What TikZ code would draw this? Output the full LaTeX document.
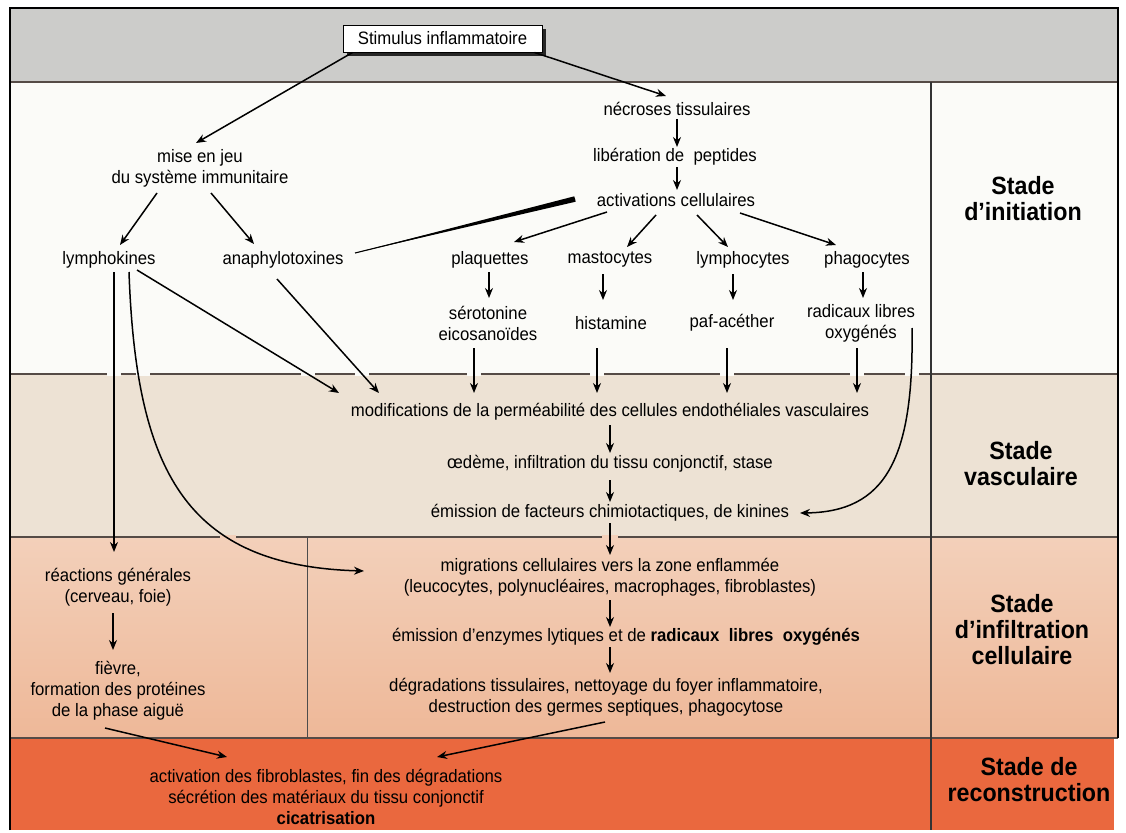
\documentclass[tikz,border=0pt]{standalone}
\usepackage{fontspec}
\setmainfont[FakeStretch=0.93]{Liberation Sans}
\usetikzlibrary{arrows.meta,shadows,calc}
\definecolor{bandgray}{RGB}{204,204,202}
\definecolor{bandwhite}{RGB}{251,251,248}
\definecolor{bandbeige}{RGB}{237,226,212}
\definecolor{salmontop}{RGB}{243,208,186}
\definecolor{salmonbot}{RGB}{238,184,152}
\definecolor{bandorange}{RGB}{234,104,62}
\definecolor{rulegray}{RGB}{85,75,70}
\tikzset{
  txt/.style={font=\fontsize{18}{21}\selectfont, align=center, inner sep=1pt},
  stage/.style={font=\bfseries\fontsize{25}{26}\selectfont, align=center, inner sep=1pt},
  arr/.style={-{Stealth[length=10pt,width=8pt]}, line width=1.5pt},
  rulebar/.style={draw=rulegray, line width=2pt},
  gapw/.style={fill=bandwhite},
  gapb/.style={fill=salmontop},
  stimbox/.style={draw, fill=white, line width=0.8pt, inner xsep=0pt, minimum width=199pt, minimum height=27pt,
    font=\fontsize{18}{20}\selectfont,
    drop shadow={shadow xshift=4pt, shadow yshift=-4pt, fill=black!85, opacity=1}}
}
\begin{document}
\begin{tikzpicture}[x=1pt,y=-1pt]
\useasboundingbox (0,0) rectangle (1126,832);
\fill[white] (0,0) rectangle (1126,832);
% bands
\fill[bandgray] (10,8) rectangle (1118,82);
\fill[bandwhite] (10,82) rectangle (1118,374);
\fill[bandbeige] (10,374) rectangle (1118,537);
\shade[top color=salmontop, bottom color=salmonbot] (10,537) rectangle (1118,738);
\fill[bandorange] (10,738) rectangle (1114,830);
% rules
\draw[rulebar] (10,82) -- (1118,82);
\draw[rulebar] (10,374) -- (1118,374);
\draw[rulebar] (10,537) -- (1118,537);
\draw[rulebar] (10,738) -- (1118,738);
% small breaks in the rules where arrows cross
\foreach \gx in {114,143,308,362,474,597,727,857,912}
  \fill[gapw] (\gx-7,371.8) rectangle (\gx+7,376.2);
\foreach \gx in {228,610}
  \fill[gapb] (\gx-8,534.8) rectangle (\gx+8,539.2);
\draw[line width=1.6pt, draw=black!80] (931,82) -- (931,830);
\draw[line width=1pt, draw=black!70] (307,537) -- (307,738);
\draw[line width=1.8pt] (10,830) -- (10,8) -- (1118,8) -- (1118,738);

% nodes
\node[stimbox] (stim) at (442.5,38.5) {Stimulus inflammatoire};
\node[txt] (nec) at (677,109) {nécroses tissulaires};
\node[txt] (lib) at (675,157) {libération de\ \ peptides};
\node[txt] (act) at (676,200) {activations cellulaires};
\node[txt] (mise) at (200,168) {mise en jeu\\du système immunitaire};
\node[txt] (lymk) at (109,260) {lymphokines};
\node[txt] (anaph) at (283,260) {anaphylotoxines};
\node[txt] (plaq) at (490,260) {plaquettes};
\node[txt] (mast) at (610,260) {mastocytes};
\node[txt] (lymc) at (743,260) {lymphocytes};
\node[txt] (phag) at (867,260) {phagocytes};
\node[txt] (sero) at (488,323) {sérotonine\\eicosanoïdes};
\node[txt] (hist) at (611,323) {histamine};
\node[txt] (paf) at (732,323) {paf-acéther};
\node[txt] (rad) at (861,323) {radicaux libres\\oxygénés};
\node[txt] (mod) at (610,412) {modifications de la perméabilité des cellules endothéliales vasculaires};
\node[txt] (oed) at (610,464) {œdème, infiltration du tissu conjonctif, stase};
\node[txt] (emf) at (610,513) {émission de facteurs chimiotactiques, de kinines};
\node[txt] (mig) at (610,577) {migrations cellulaires vers la zone enflammée\\(leucocytes, polynucléaires, macrophages, fibroblastes)};
\node[txt] (enz) at (626,637) {émission d'enzymes lytiques et de \textbf{radicaux\ \ libres\ \ oxygénés}};
\node[txt] (deg) at (606,697) {dégradations tissulaires, nettoyage du foyer inflammatoire,\\destruction des germes septiques, phagocytose};
\node[txt] (reac) at (118,587) {réactions générales\\(cerveau, foie)};
\node[txt] (fiev) at (118,691) {fièvre,\\formation des protéines\\de la phase aiguë};
\node[txt] (fib) at (326,797) {activation des fibroblastes, fin des dégradations\\sécrétion des matériaux du tissu conjonctif\\\textbf{cicatrisation}};
% stage labels
\node[stage] (s1) at (1023,199) {Stade\\d'initiation};
\node[stage] (s2) at (1021,464) {Stade\\vasculaire};
\node[stage] (s3) at (1022,630) {Stade\\d'infiltration\\cellulaire};
\node[stage] (s4) at (1029,780) {Stade de\\reconstruction};

% connectors
\draw[arr] ($(stim)+(-90,14)$) -- ($(mise)+(-4,-25)$);
\draw[arr] ($(stim)+(92,14)$) -- ($(nec)+(-11,-13)$);
\draw[arr] ($(nec)+(0,10)$) -- ($(lib)+(2,-10)$);
\draw[arr] ($(lib)+(2,10)$) -- ($(act)+(1,-10)$);
\draw[arr] ($(mise)+(-43,25)$) -- ($(lymk)+(11,-15)$);
\draw[arr] ($(mise)+(11,25)$) -- ($(anaph)+(-29,-16)$);
% wedge
\coordinate (wA) at ($(anaph)+(72,-7)$);
\coordinate (wB) at ($(act)+(-101,-1)$);
\fill (wA) -- ($(wB)+(0.7,2.7)$) -- ($(wB)+(-0.7,-2.7)$) -- cycle;
\draw[line width=1.1pt] (wA) -- (wB);
\draw[arr] ($(act)+(-69,12)$) -- ($(plaq)+(24,-18)$);
\draw[arr] ($(act)+(-20,15)$) -- ($(mast)+(17,-13)$);
\draw[arr] ($(act)+(21,15)$) -- ($(lymc)+(-15,-13)$);
\draw[arr] ($(act)+(64,13)$) -- ($(phag)+(-31,-15)$);
\draw[arr] ($(plaq)+(-1,12)$) -- ($(plaq)+(-1,38)$);
\draw[arr] ($(mast)+(-7,14)$) -- ($(mast)+(-7,40)$);
\draw[arr] ($(lymc)+(-10,14)$) -- ($(lymc)+(-10,40)$);
\draw[arr] ($(phag)+(-4,12)$) -- ($(phag)+(-4,38)$);
\draw[arr] ($(sero)+(-14,25)$) -- ($(mod)+(-136,-19)$);
\draw[arr] ($(hist)+(-14,25)$) -- ($(mod)+(-13,-19)$);
\draw[arr] ($(paf)+(-5,25)$) -- ($(mod)+(117,-19)$);
\draw[arr] ($(rad)+(-4,25)$) -- ($(mod)+(247,-19)$);
\draw[arr] ($(lymk)+(28,10)$) -- ($(mod)+(-271,-19)$);
\draw[arr] ($(anaph)+(-6,19)$) -- ($(mod)+(-231,-19)$);
\draw[arr] ($(lymk)+(5,12)$) -- ($(reac)+(-4,-35)$);
\draw[arr] ($(lymk)+(20,12)$) .. controls (136,470) and (185,566) .. ($(mig)+(-246,-6)$);
\draw[arr] ($(rad)+(51,5)$) .. controls (914,460) and (885,512) .. ($(emf)+(190,0)$);
\draw[arr] ($(mod)+(0,13)$) -- ($(oed)+(0,-11)$);
\draw[arr] ($(oed)+(0,16)$) -- ($(emf)+(0,-11)$);
\draw[arr] ($(emf)+(0,10)$) -- ($(mig)+(0,-22)$);
\draw[arr] ($(mig)+(0,23)$) -- ($(enz)+(-16,-10)$);
\draw[arr] ($(enz)+(-16,10)$) -- ($(deg)+(4,-24)$);
\draw[arr] ($(reac)+(-5,26)$) -- ($(fiev)+(-5,-41)$);
\draw[arr] ($(fiev)+(-13,37)$) -- ($(fib)+(-99,-40)$);
\draw[arr] ($(deg)+(-1,25)$) -- ($(fib)+(111,-40)$);
\end{tikzpicture}
\end{document}
